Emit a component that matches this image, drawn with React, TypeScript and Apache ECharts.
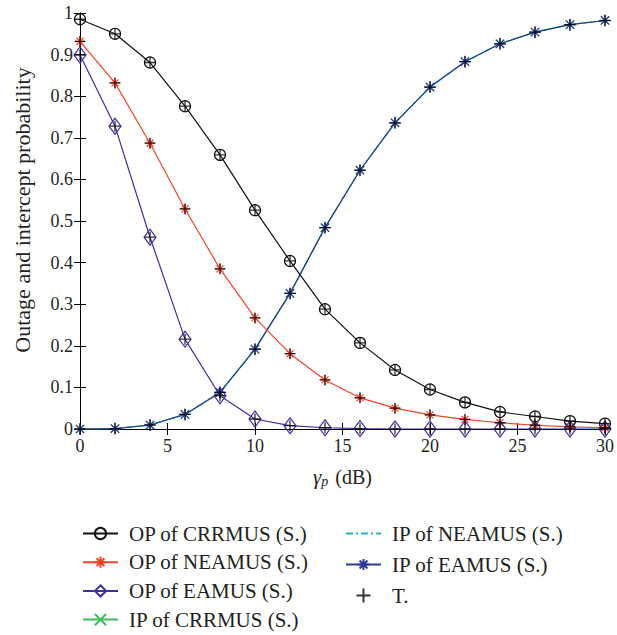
import React, { useEffect, useRef } from "react";
import * as echarts from "echarts";

const xs = [0, 2, 4, 6, 8, 10, 12, 14, 16, 18, 20, 22, 24, 26, 28, 30];
const opCRRMUS = [0.985, 0.95, 0.881, 0.776, 0.659, 0.526, 0.404, 0.288, 0.207, 0.142, 0.095, 0.064, 0.041, 0.03, 0.019, 0.013];
const opNEAMUS = [0.932, 0.832, 0.687, 0.529, 0.385, 0.267, 0.181, 0.118, 0.075, 0.05, 0.034, 0.023, 0.015, 0.009, 0.005, 0.003];
const opEAMUS = [0.899, 0.728, 0.461, 0.216, 0.08, 0.024, 0.008, 0.003, 0.001, 0.0, 0.0, 0.0, 0.0, 0.0, 0.0, 0.0];
const ipEAMUS = [0.0, 0.001, 0.0096, 0.035, 0.088, 0.192, 0.326, 0.484, 0.622, 0.736, 0.822, 0.883, 0.926, 0.954, 0.972, 0.982];
const ipCRRMUS = ipEAMUS;
const ipNEAMUS = ipEAMUS;

const names = [
  "OP of CRRMUS (S.)",
  "OP of NEAMUS (S.)",
  "OP of EAMUS (S.)",
  "IP of CRRMUS (S.)",
  "IP of NEAMUS (S.)",
  "IP of EAMUS (S.)",
  "T.",
];

const FONT = "Liberation Serif";
const TXT = "#231f20";
const STAR = "path://M5,0L5,10M0,5L10,5M1.5,1.5L8.5,8.5M8.5,1.5L1.5,8.5";
const XMARK = "path://M0,0L10,10M10,0L0,10";
const PLUS = "path://M5,0L5,10M0,5L10,5";
const DIAMOND = "path://M6,0L12,8L6,16L0,8Z";

const pairs = (ys: number[]) => xs.map((x, i) => [x, ys[i]]);

export default function App() {
  const ref = useRef<HTMLDivElement>(null);
  useEffect(() => {
    if (!ref.current) return;
    const chart = echarts.init(ref.current, null, { renderer: "svg" });
    const lineSeries = (
      name: string,
      ys: number[],
      color: string,
      symbol: string,
      size: number | number[],
      extra: any = {}
    ) => ({
      name,
      type: "line",
      data: pairs(ys),
      symbol,
      symbolSize: size,
      showAllSymbol: true,
      lineStyle: { color, width: 1.2, ...(extra.lineStyle || {}) },
      itemStyle: { color: "rgba(255,255,255,0)", borderColor: color, borderWidth: 1.2 },
      emphasis: { disabled: true },
      z: extra.z || 2,
    });
    const tData = [
      ...pairs(opCRRMUS),
      ...pairs(opNEAMUS),
      ...pairs(opEAMUS),
      ...pairs(ipEAMUS),
    ];
    const legendText = {
      fontFamily: FONT,
      fontSize: 21,
      color: TXT,
      lineHeight: 21,
      padding: [0, 0, 0, 6],
    };
    chart.setOption({
      animation: false,
      backgroundColor: "#fff",
      grid: { left: 80, right: 7, top: 13, bottom: 206 },
      legend: [
        {
          data: names.slice(0, 4),
          orient: "vertical",
          left: 82,
          top: 523,
          padding: 0,
          itemWidth: 35,
          itemHeight: 14,
          itemGap: 7.7,
          textStyle: legendText,
          selectedMode: false,
        },
        {
          data: [
            { name: names[4], itemStyle: { opacity: 0 } },
            names[5],
            names[6],
          ],
          orient: "vertical",
          left: 345,
          top: 523,
          padding: 0,
          itemWidth: 35,
          itemHeight: 14,
          itemGap: 10,
          textStyle: legendText,
          selectedMode: false,
        },
      ],
      xAxis: [
        {
          type: "value",
          min: 0,
          max: 30,
          interval: 5,
          position: "bottom",
          name: "{g|γ}{s|p} (dB)",
          nameLocation: "middle",
          nameGap: 36,
          nameTextStyle: {
            fontFamily: FONT,
            fontSize: 20,
            color: TXT,
            rich: {
              g: { fontFamily: FONT, fontSize: 21, fontStyle: "italic", color: TXT },
              s: { fontFamily: FONT, fontSize: 14, fontStyle: "italic", color: TXT, padding: [9, 2, 0, 0] },
            },
          },
          axisLine: { show: true, lineStyle: { color: "#000", width: 1 } },
          axisTick: { inside: true, length: 6, lineStyle: { color: "#000" } },
          axisLabel: { fontFamily: FONT, fontSize: 18, color: TXT, margin: 8 },
          splitLine: { show: false },
        },
        {
          type: "value",
          min: 0,
          max: 30,
          interval: 5,
          position: "top",
          axisLine: { show: true, lineStyle: { color: "#000", width: 1 } },
          axisTick: { inside: true, length: 6, lineStyle: { color: "#000" } },
          axisLabel: { show: false },
          splitLine: { show: false },
        },
      ],
      yAxis: [
        {
          type: "value",
          min: 0,
          max: 1,
          interval: 0.1,
          position: "left",
          name: "Outage and intercept probability",
          nameLocation: "middle",
          nameGap: 47,
          nameRotate: 90,
          nameTextStyle: { fontFamily: FONT, fontSize: 22, color: TXT, padding: [0, 0, 0, 22] },
          axisLine: { show: true, lineStyle: { color: "#000", width: 1 } },
          axisTick: { inside: true, length: 6, lineStyle: { color: "#000" } },
          axisLabel: {
            fontFamily: FONT,
            fontSize: 18,
            color: TXT,
            margin: 7,
            formatter: (v: number) => String(Number(v.toFixed(1))),
          },
          splitLine: { show: false },
        },
        {
          type: "value",
          min: 0,
          max: 1,
          interval: 0.1,
          position: "right",
          axisLine: { show: true, lineStyle: { color: "#000", width: 1 } },
          axisTick: { inside: true, length: 6, lineStyle: { color: "#000" } },
          axisLabel: { show: false },
          splitLine: { show: false },
        },
      ],
      series: [
        lineSeries(names[3], ipCRRMUS, "#3cbf5a", XMARK, 8, { z: 2 }),
        lineSeries(names[4], ipNEAMUS, "#26b3b8", "none", 1, { z: 2, lineStyle: { type: [7, 3, 2, 3] } }),
        lineSeries(names[5], ipEAMUS, "#2a3a96", STAR, 12, { z: 3 }),
        lineSeries(names[0], opCRRMUS, "#111", "circle", 11, { z: 3 }),
        lineSeries(names[1], opNEAMUS, "#f0432a", STAR, 10, { z: 3 }),
        lineSeries(names[2], opEAMUS, "#3b2fa3", DIAMOND, [12, 16], { z: 3 }),
        {
          name: names[6],
          type: "scatter",
          data: tData,
          symbol: PLUS,
          symbolSize: 11,
          itemStyle: { color: "rgba(255,255,255,0)", borderColor: "#000", borderWidth: 1.3 },
          emphasis: { disabled: true },
          z: 5,
        },
      ],
    });
    return () => chart.dispose();
  }, []);
  return <div ref={ref} style={{ width: 617, height: 635, position: "absolute", left: 0, top: 0 }} />;
}
